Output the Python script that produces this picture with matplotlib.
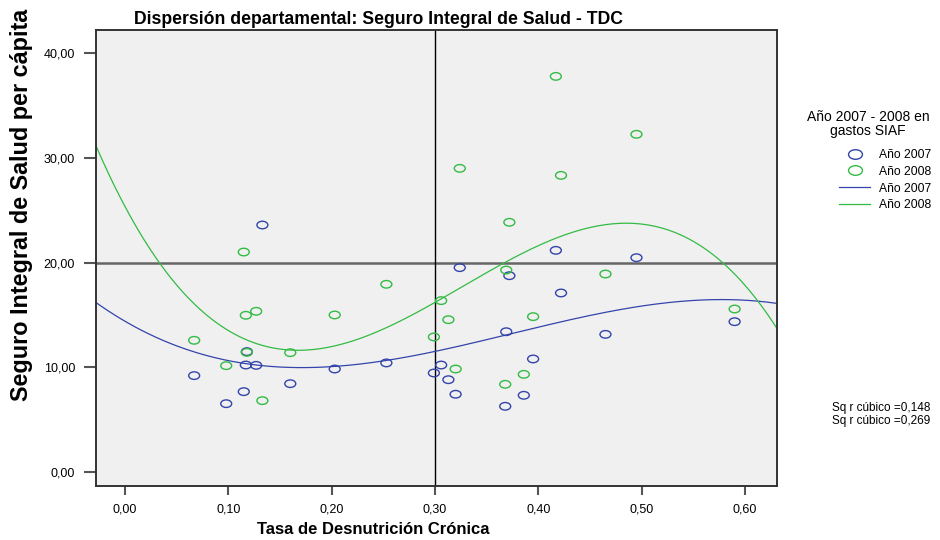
import numpy as np
import matplotlib
matplotlib.use("Agg")
import matplotlib.pyplot as plt
from matplotlib import font_manager
from matplotlib.path import Path
from matplotlib.transforms import Affine2D
from matplotlib.lines import Line2D

# Tasa de desnutricion cronica por departamento y gasto SIS per capita
tdc = [0.067, 0.098, 0.115, 0.117, 0.118, 0.127, 0.133, 0.160, 0.203, 0.253,
       0.299, 0.306, 0.313, 0.320, 0.324, 0.368, 0.369, 0.372, 0.386, 0.395,
       0.417, 0.422, 0.465, 0.495, 0.590]
sis_2007 = [9.20, 6.52, 7.67, 10.21, 11.49, 10.18, 23.58, 8.43, 9.83, 10.41,
            9.45, 10.21, 8.81, 7.42, 19.51, 6.27, 13.39, 18.74, 7.32, 10.79,
            21.16, 17.09, 13.14, 20.46, 14.35]
sis_2008 = [12.57, 10.15, 21.00, 14.96, 11.42, 15.34, 6.81, 11.39, 14.99, 17.92,
            12.89, 16.36, 14.54, 9.83, 28.99, 8.37, 19.28, 23.84, 9.32, 14.83,
            37.77, 28.32, 18.90, 32.24, 15.56]
series_names = ["Año 2007", "Año 2008"]
r2_labels = ["Sq r cúbico =0,148", "Sq r cúbico =0,269"]

blue = "#3344aa"
green = "#33bb44"

names = {f.name for f in font_manager.fontManager.ttflist}
fam = "Liberation Sans Narrow" if "Liberation Sans Narrow" in names else "Liberation Sans"
plt.rcParams["font.family"] = [fam, "DejaVu Sans"]

# ellipse marker like SPSS
ell = Path.unit_circle().transformed(Affine2D().scale(1.45, 1.0))

fig = plt.figure(figsize=(9.4, 5.4), dpi=100)
ax = fig.add_axes([96 / 940, 54 / 540, 681 / 940, 456 / 540])
ax.set_facecolor("#f0f0f0")

ax.axhline(20, color="#666666", lw=1.8, zorder=1)
ax.axvline(0.30, color="black", lw=1.0, zorder=1)

x = np.array(tdc)
xs = np.linspace(-0.03, 0.64, 300)
for ys, col in [(sis_2007, blue), (sis_2008, green)]:
    ax.scatter(x, ys, marker=ell, s=62, facecolors="none", edgecolors=col,
               linewidths=1.0, zorder=3)
for ys, col in [(sis_2007, blue), (sis_2008, green)]:
    coef = np.polyfit(x, ys, 3)
    ax.plot(xs, np.polyval(coef, xs), color=col, lw=0.9, zorder=2)

ax.set_xlim(-0.028, 0.631)
ax.set_ylim(-1.34, 42.2)
ax.set_xticks(np.arange(0, 0.61, 0.1))
ax.set_xticklabels([f"{v:.2f}".replace(".", ",") for v in np.arange(0, 0.61, 0.1)])
ax.set_yticks(np.arange(0, 41, 10))
ax.set_yticklabels([f"{v:.2f}".replace(".", ",") for v in np.arange(0, 41, 10)])
ax.tick_params(axis="y", length=9, width=1.5, color="#555555", labelsize=9, pad=6)
ax.tick_params(axis="x", length=6.5, width=1.5, color="#555555", labelsize=9, pad=6)
for s in ax.spines.values():
    s.set_linewidth(1.4)
    s.set_color("#333333")

fig.text(373 / 940, 1 - 530 / 540, "Tasa de Desnutrición Crónica",
         ha="center", va="center", fontsize=12, fontweight="bold")
fig.text(0.5 * (133 + 625) / 940, 1 - 19 / 540,
         "Dispersión departamental: Seguro Integral de Salud - TDC",
         ha="center", va="center", fontsize=12.7, fontweight="bold")
fig.text(22 / 940, 1 - 401 / 540, "Seguro Integral de Salud per cápita",
         rotation=90, ha="center", va="bottom", fontsize=16.8, fontweight="bold",
         family=["Liberation Sans", "DejaVu Sans"])

handles = [
    Line2D([], [], ls="none", marker=ell, markersize=10, markerfacecolor="none",
           markeredgecolor=blue, markeredgewidth=1.0),
    Line2D([], [], ls="none", marker=ell, markersize=10, markerfacecolor="none",
           markeredgecolor=green, markeredgewidth=1.0),
    Line2D([], [], color=blue, lw=0.9),
    Line2D([], [], color=green, lw=0.9),
]
labels = series_names + series_names
leg = fig.legend(handles, labels, loc="upper left", bbox_to_anchor=(828 / 940, 1 - 138 / 540),
                 frameon=False, fontsize=8.7, handlelength=2.6, handletextpad=0.7,
                 labelspacing=0.4)
fig.text(868 / 940, 1 - 124 / 540, "Año 2007 - 2008 en\ngastos SIAF",
         ha="center", va="center", fontsize=10, multialignment="center",
         linespacing=1.0)

fig.text(930 / 940, 1 - 408 / 540, r2_labels[0], ha="right", va="center", fontsize=8.5)
fig.text(930 / 940, 1 - 421 / 540, r2_labels[1], ha="right", va="center", fontsize=8.5)

fig.savefig("out.png", dpi=100)
